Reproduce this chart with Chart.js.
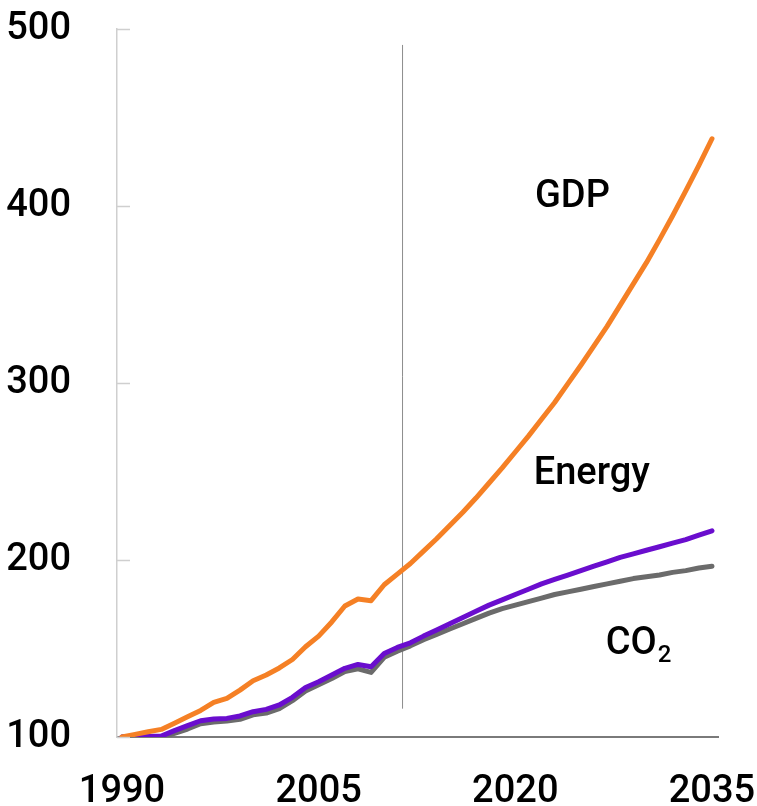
<!DOCTYPE html>
<html>
<head>
<meta charset="utf-8">
<script src="https://cdn.jsdelivr.net/npm/chart.js@4/dist/chart.umd.min.js"></script>
<style>
  html, body { margin: 0; padding: 0; background: #fff; }
  #wrap { width: 757px; height: 806px; }
</style>
</head>
<body>
<div id="wrap"><canvas id="LineChart"></canvas></div>
<script>
// index, 1990 = 100
const years = [
  1990, 1991, 1992, 1993, 1994, 1995, 1996, 1997, 1998, 1999,
  2000, 2001, 2002, 2003, 2004, 2005, 2006, 2007, 2008, 2009,
  2010, 2011, 2012, 2013, 2014, 2015, 2016, 2017, 2018, 2019,
  2020, 2021, 2022, 2023, 2024, 2025, 2026, 2027, 2028, 2029,
  2030, 2031, 2032, 2033, 2034, 2035
];
const gdp = [
  100, 101.5, 103, 104.3, 107.8, 111.4, 115, 119.5, 121.8, 126.5,
  131.8, 135, 139, 143.8, 151, 157, 165, 174, 178, 177,
  186, 192, 198, 205, 212, 219.5, 227, 235, 243.5, 252,
  261, 270, 279.5, 289, 299.5, 310, 321, 332, 344, 356,
  368, 381, 394.5, 408.5, 423, 438
];
const energy = [
  100, 100.2, 100.3, 100.5, 103.6, 106.4, 109.2, 110.2, 110.5, 111.9,
  114.3, 115.6, 118.1, 122.4, 128, 131.2, 135, 138.8, 141, 139.7,
  147.2, 150.6, 153.2, 157, 160.5, 164, 167.5, 171, 174.5, 177.5,
  180.5, 183.5, 186.5, 189, 191.5, 194, 196.5, 199, 201.5, 203.5,
  205.5, 207.5, 209.5, 211.5, 214, 216.5
];
const co2 = [
  100, 100, 100, 100, 102, 104.5, 107.5, 108.5, 109, 110,
  112.5, 113.5, 116, 120.5, 126, 129.5, 133, 137, 138.5, 136.5,
  145, 148.5, 151.5, 155, 158, 161, 164, 167, 170, 172.5,
  174.5, 176.5, 178.5, 180.5, 182, 183.5, 185, 186.5, 188, 189.5,
  190.5, 191.5, 193, 194, 195.5, 196.5
];
const xTicks = [1990, 2005, 2020, 2035];
const yTicks = [100, 200, 300, 400, 500];

// divider between history and projection
const dividerYear = 2011.4;
const dividerRange = [116, 491];

// series names written next to the lines (year, value of baseline)
const seriesLabels = [
  { text: 'GDP', x: 2021.5, y: 399.4 },
  { text: 'Energy', x: 2021.4, y: 243.2 },
  { text: 'CO', sub: '2', x: 2026.9, y: 147.1, subY: 142.4 }
];

const FONT = 'Roboto, "Liberation Sans", Arial, sans-serif';
const WEIGHT = 500;

function pts(vals) {
  return years.map((yr, i) => ({ x: yr, y: vals[i] }));
}

const innerTicks = {
  id: 'innerTicks',
  afterDraw(chart) {
    const ctx = chart.ctx;
    const xs = chart.scales.x, ys = chart.scales.y;
    const left = xs.getPixelForValue(xs.min);
    ctx.save();
    ctx.strokeStyle = '#cfcfcf';
    ctx.lineWidth = 1.5;
    yTicks.forEach(v => {
      const py = Math.round(ys.getPixelForValue(v)) + 0.5;
      ctx.beginPath();
      ctx.moveTo(left, py);
      ctx.lineTo(left + 13, py);
      ctx.stroke();
    });
    ctx.restore();
  }
};

const lineLabels = {
  id: 'lineLabels',
  afterDatasetsDraw(chart) {
    const ctx = chart.ctx;
    const xs = chart.scales.x, ys = chart.scales.y;
    ctx.save();
    ctx.fillStyle = '#000';
    ctx.textAlign = 'left';
    ctx.textBaseline = 'alphabetic';
    seriesLabels.forEach(l => {
      const px = xs.getPixelForValue(l.x);
      ctx.font = WEIGHT + ' 38px ' + FONT;
      ctx.fillText(l.text, px, ys.getPixelForValue(l.y));
      if (l.sub) {
        const w = ctx.measureText(l.text).width;
        ctx.font = WEIGHT + ' 24px ' + FONT;
        ctx.fillText(l.sub, px + w + 1, ys.getPixelForValue(l.subY));
      }
    });
    ctx.restore();
  }
};

new Chart(
  document.getElementById('LineChart'),
  {
    type: 'line',
    data: {
      datasets: [
        { label: 'GDP', data: pts(gdp), borderColor: '#f58025' },
        { label: 'Energy', data: pts(energy), borderColor: '#6a0dce' },
        { label: 'CO2', data: pts(co2), borderColor: '#6b6b6b' },
        {
          label: 'divider',
          data: dividerRange.map(v => ({ x: dividerYear, y: v })),
          borderColor: '#8c8c8c',
          borderWidth: 1,
          borderCapStyle: 'butt'
        }
      ]
    },
    options: {
      responsive: true,
      maintainAspectRatio: false,
      animation: false,
      layout: {
        autoPadding: false,
        padding: { top: 29, right: 39, left: 0, bottom: 0 }
      },
      elements: {
        line: {
          borderWidth: 5,
          tension: 0,
          borderCapStyle: 'round',
          borderJoinStyle: 'round'
        },
        point: { radius: 0, hoverRadius: 0 }
      },
      plugins: {
        legend: { display: false },
        tooltip: { enabled: false }
      },
      scales: {
        x: {
          type: 'linear',
          min: 1989.62,
          max: 2035.46,
          afterBuildTicks(scale) {
            scale.ticks = xTicks.map(v => ({ value: v }));
          },
          afterFit(scale) {
            scale.height = 69;
            scale.paddingLeft = 0;
            scale.paddingRight = 0;
            scale.paddingTop = 0;
            scale.paddingBottom = 0;
          },
          grid: { display: false },
          border: { display: true, color: '#7a7a7a', width: 2 },
          ticks: {
            color: '#000',
            padding: 25,
            maxRotation: 0,
            autoSkip: false,
            font: { family: FONT, size: 38, weight: WEIGHT },
            callback: v => String(v)
          }
        },
        y: {
          min: 100,
          max: 500,
          afterBuildTicks(scale) {
            scale.ticks = yTicks.map(v => ({ value: v }));
          },
          afterFit(scale) {
            scale.width = 117;
            scale.paddingLeft = 0;
            scale.paddingRight = 0;
            scale.paddingTop = 0;
            scale.paddingBottom = 0;
          },
          grid: { display: false },
          border: { display: true, color: '#cfcfcf', width: 1.5 },
          ticks: {
            color: '#000',
            padding: 38,
            font: { family: FONT, size: 38, weight: WEIGHT },
            callback: v => String(v)
          }
        }
      }
    },
    plugins: [innerTicks, lineLabels]
  }
);
</script>
</body>
</html>
